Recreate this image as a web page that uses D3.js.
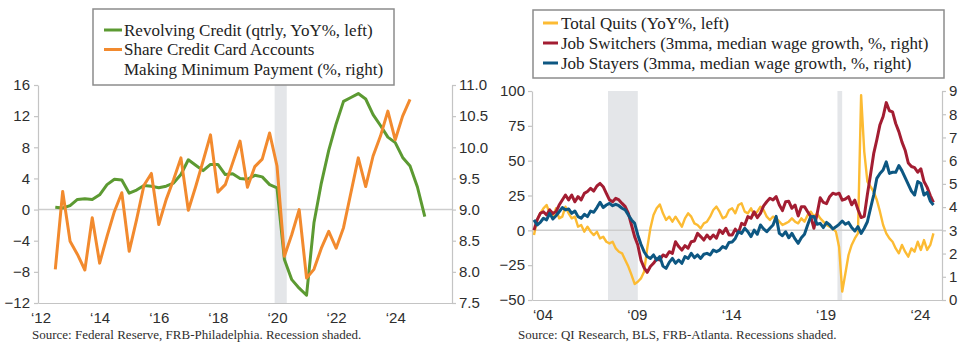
<!DOCTYPE html>
<html>
<head>
<meta charset="utf-8">
<script src="https://cdn.jsdelivr.net/npm/d3@7"></script>
<style>
  body { margin: 0; background: #fff; }
  svg { font-family: "Liberation Serif", "Times New Roman", serif; display: block; }
  .axis path, .axis line { stroke: #c4c4c4; stroke-width: 1.2; }
  .axis text { fill: #2e2e2e; font-size: 15px; }
  .legend text { fill: #222; font-size: 17px; }
  .source { fill: #2e2e2e; font-size: 13px; }
</style>
</head>
<body>
<div id="wrapper"></div>
<script>
// ---- left panel: quarterly, first point Q3 2012 ----
const leftStart = 2012.5
const leftStep = 0.25
const revolvingCredit = [0.3, 0.2, 0.5, 1.3, 1.4, 1.3, 1.9, 3.2, 3.9, 3.8,
  2.1, 2.5, 3.1, 3.0, 2.8, 3.0, 3.4, 4.5, 6.4, 5.7,
  5.0, 5.8, 5.8, 4.5, 4.6, 4.0, 3.9, 4.4, 4.2, 3.2,
  2.8, -6.4, -9.0, -10.1, -11.0, -1.7, 3.4, 7.6, 11.0, 13.9,
  14.4, 14.9, 14.2, 12.2, 10.8, 9.3, 8.6, 6.7, 5.6, 2.9, -0.9]
const minPayShare = [8.04, 9.29, 8.49, 8.28, 8.03, 8.87, 8.14, 8.57, 8.97, 9.27,
  8.33, 8.84, 9.39, 9.58, 8.76, 9.16, 9.48, 9.83, 8.99, 9.37,
  9.78, 10.20, 9.28, 9.40, 9.75, 10.10, 9.36, 9.69, 9.81, 10.23,
  9.70, 8.25, 8.60, 9.00, 7.90, 8.04, 8.38, 8.65, 8.38, 8.71,
  9.27, 9.83, 9.37, 9.86, 10.18, 10.58, 10.12, 10.50, 10.77]
const leftRecession = [[2019.92, 2020.33]]
const leftYearTicks = [2012, 2014, 2016, 2018, 2020, 2022, 2024]
const leftTicksL = [-12, -8, -4, 0, 4, 8, 12, 16]
const leftTicksR = [7.5, 8.0, 8.5, 9.0, 9.5, 10.0, 10.5, 11.0]

// ---- right panel: every two months from Jan 2004 ----
const rightStart = 2004
const rightStep = 1 / 6
const totalQuits = [-3.4, 7.4, 12.2, 15.8, 18.2, 12.2, 9.8, 15.8, 8.6, 9.8,
  17, 12.2, 8.6, 9.8, 2.6, 3.8, -1, 2.6, -1, -3.4,
  -1, -5.8, -4.6, -8.2, -9.4, -8.2, -13, -15.4, -16.5, -21.3,
  -26, -32, -38.5, -36.9, -34.5, -29.7, -12.9, 1.4, 11, 15.8,
  18.6, 12.2, 7.4, 9.8, 6.2, 9.8, 6.2, 2.6, 8.6, 12.2,
  9.8, 5, 3.8, 1.4, 5, 6.2, 9.8, 14.6, 17, 13.4,
  8.6, 9.8, 14.6, 15.8, 12.2, 18.2, 19.4, 13.4, 12.2, 15.8,
  11, 13.4, 17, 14.6, 9.8, 7.4, 9.8, 8.6, 6.2, 3.8,
  5, 6.2, 8.6, 6.2, 5, 8.6, 6.2, 11, 13.4, 9.8,
  12.2, 8.6, 6.2, 3.8, 2.6, 1.4, -1, -12, -44, -31,
  -17.7, -10.5, -5.8, -2.2, 97, 56.5, 34.9, 31.3, 27.7, 21.8,
  13.4, 3.8, -2.2, -5.8, -8.2, -13, -16.5, -10.5, -15.3, -18.9,
  -13, -15.3, -8.2, -14.1, -7, -14.1, -10.5, -2.2]
const jobSwitchers = [3.01, 3.45, 3.73, 3.80, 3.66, 3.88, 3.73, 3.80, 4.09, 4.31,
  4.52, 4.31, 4.52, 4.23, 4.45, 4.31, 4.59, 4.67, 4.81, 4.69,
  4.91, 5.02, 4.88, 4.59, 4.31, 4.23, 4.38, 4.31, 4.16, 4.02,
  3.73, 3.23, 2.73, 2.37, 1.72, 1.39, 1.19, 1.44, 1.58, 1.77,
  1.72, 1.94, 1.87, 2.08, 2.01, 2.51, 2.30, 2.15, 2.34, 2.23,
  2.51, 2.54, 2.87, 2.73, 2.58, 2.80, 2.63, 2.80, 2.66, 3.01,
  2.87, 3.09, 2.80, 2.80, 3.05, 2.90, 3.30, 3.23, 3.59, 3.52,
  3.80, 3.55, 3.73, 4.05, 4.23, 4.38, 4.31, 4.45, 4.09, 3.85,
  4.23, 4.25, 3.95, 4.09, 3.62, 4.02, 4.02, 3.80, 3.59, 3.09,
  3.70, 4.40, 4.20, 4.15, 4.45, 4.60, 4.55, 4.60, 4.30, 4.35,
  4.45, 4.10, 4.30, 3.90, 3.55, 3.60, 4.55, 5.40, 6.30, 6.90,
  7.55, 7.90, 8.50, 8.15, 8.10, 7.60, 7.25, 6.80, 6.45, 5.90,
  5.75, 5.70, 5.50, 5.65, 5.10, 4.85, 4.50, 4.20]
const jobStayers = [3.45, 3.23, 3.34, 3.52, 3.45, 3.73, 3.49, 3.63, 3.80, 3.98,
  3.88, 3.92, 3.73, 3.83, 3.59, 3.52, 3.69, 3.59, 3.83, 3.78,
  3.98, 4.21, 3.98, 4.09, 4.16, 4.06, 4.12, 4.06, 3.95, 3.88,
  3.66, 3.45, 3.30, 2.80, 2.40, 2.08, 1.87, 1.79, 1.94, 1.72,
  1.87, 1.46, 1.36, 1.62, 1.79, 1.58, 1.72, 1.58, 1.87, 1.79,
  2.01, 1.82, 1.94, 1.79, 1.97, 2.01, 1.94, 2.15, 2.08, 2.15,
  2.30, 2.23, 2.48, 2.50, 2.65, 2.94, 2.87, 3.09, 2.94, 2.73,
  3.01, 2.83, 3.23, 3.06, 2.94, 3.09, 3.23, 3.60, 2.87, 2.77,
  2.94, 2.68, 2.87, 2.63, 2.44, 2.68, 2.83, 3.23, 3.59, 3.60,
  3.26, 3.30, 3.12, 3.34, 3.23, 3.06, 3.15, 3.26, 3.40, 3.26,
  3.34, 3.12, 2.97, 3.16, 2.87, 3.09, 3.37, 3.95, 4.52, 5.24,
  5.45, 5.60, 5.95, 5.45, 5.50, 5.50, 5.79, 5.56, 5.27, 4.98,
  4.69, 4.52, 5.10, 5.02, 4.52, 4.64, 4.26, 4.09]
const rightRecessions = [[2007.92, 2009.5], [2020.08, 2020.33]]
const rightYearTicks = [2004, 2009, 2014, 2019, 2024]
const rightTicksL = [-50, -25, 0, 25, 50, 75, 100]
const rightTicksR = [0, 1, 2, 3, 4, 5, 6, 7, 8, 9]

const colors = {
  green: "#5c9a32", orange: "#f28a2e",
  yellow: "#fcbb33", red: "#a31d32", blue: "#0d5782",
  shade: "#e4e6e9", zero: "#cdcdcd", box: "#8c8c8c"
}

const svg = d3.select("#wrapper").append("svg")
  .attr("width", 975)
  .attr("height", 351)

const toPoints = (values, start, step) => values.map((v, i) => ({ t: start + i * step, v: v }))
const yearLabel = d => "\u2018" + String(Math.floor(d)).slice(2)

function drawLegend(g, box, items) {
  const lg = g.append("g").attr("class", "legend")
  lg.append("rect")
    .attr("x", box.x).attr("y", box.y)
    .attr("width", box.w).attr("height", box.h)
    .attr("fill", "#fff")
    .attr("stroke", colors.box)
    .attr("stroke-width", 1.5)
  items.forEach((it, i) => {
    const cy = box.y + box.top + i * box.gap
    if (it.color) {
      lg.append("line")
        .attr("x1", box.x + box.mark).attr("x2", box.x + box.mark + box.markW)
        .attr("y1", cy).attr("y2", cy)
        .attr("stroke", it.color).attr("stroke-width", 3)
    }
    lg.append("text")
      .attr("x", box.x + box.text)
      .attr("y", cy)
      .attr("dy", "0.33em")
      .text(it.label)
  })
}

// ================= LEFT PANEL =================
{
  const dim = { left: 38, right: 452, top: 85, bottom: 303 }
  const x = d3.scaleLinear().domain([2011.915, 2025.92]).range([dim.left, dim.right])
  const yL = d3.scaleLinear().domain([-12, 16]).range([dim.bottom, dim.top])
  const yR = d3.scaleLinear().domain([7.5, 11.0]).range([dim.bottom, dim.top])
  const g = svg.append("g")

  g.selectAll(".shade").data(leftRecession).enter().append("rect")
    .attr("x", d => x(d[0])).attr("width", d => x(d[1]) - x(d[0]))
    .attr("y", dim.top).attr("height", dim.bottom - dim.top)
    .attr("fill", colors.shade)

  g.append("line")
    .attr("x1", dim.left).attr("x2", dim.right)
    .attr("y1", yL(0)).attr("y2", yL(0))
    .attr("stroke", colors.zero).attr("stroke-width", 1.5)

  g.append("g").attr("class", "axis")
    .attr("transform", `translate(${dim.left},0)`)
    .call(d3.axisLeft(yL).tickValues(leftTicksL).tickSize(4).tickSizeOuter(0).tickPadding(4))
  g.append("g").attr("class", "axis")
    .attr("transform", `translate(${dim.right},0)`)
    .call(d3.axisRight(yR).tickValues(leftTicksR).tickFormat(d3.format(".1f")).tickSize(4).tickSizeOuter(0).tickPadding(3))
  g.append("g").attr("class", "axis")
    .attr("transform", `translate(0,${dim.bottom})`)
    .call(d3.axisBottom(x).tickValues(leftYearTicks).tickFormat(yearLabel).tickSize(0).tickSizeOuter(0).tickPadding(9))

  const line = scale => d3.line().x(d => x(d.t)).y(d => scale(d.v))

  g.append("path")
    .datum(toPoints(revolvingCredit, leftStart, leftStep))
    .attr("fill", "none").attr("stroke", colors.green)
    .attr("stroke-width", 3).attr("stroke-linejoin", "round")
    .attr("d", line(yL))
  g.append("path")
    .datum(toPoints(minPayShare, leftStart, leftStep))
    .attr("fill", "none").attr("stroke", colors.orange)
    .attr("stroke-width", 3).attr("stroke-linejoin", "round")
    .attr("d", line(yR))

  drawLegend(g, { x: 93, y: 9, w: 301, h: 76, top: 21, gap: 19.5, mark: 11, markW: 18, text: 31 }, [
    { color: colors.green, label: "Revolving Credit (qtrly, YoY%, left)" },
    { color: colors.orange, label: "Share Credit Card Accounts" },
    { color: null, label: "Making Minimum Payment (%, right)" }
  ])

  g.append("text").attr("class", "source")
    .attr("x", 32).attr("y", 339)
    .text("Source: Federal Reserve, FRB-Philadelphia. Recession shaded.")
}

// ================= RIGHT PANEL =================
{
  const dim = { left: 532, right: 942, top: 91, bottom: 300 }
  const x = d3.scaleLinear().domain([2003.894, 2025.62]).range([dim.left, dim.right])
  const yL = d3.scaleLinear().domain([-50, 100]).range([dim.bottom, dim.top])
  const yR = d3.scaleLinear().domain([0, 9]).range([dim.bottom, dim.top])
  const g = svg.append("g")

  g.selectAll(".shade").data(rightRecessions).enter().append("rect")
    .attr("x", d => x(d[0])).attr("width", d => x(d[1]) - x(d[0]))
    .attr("y", dim.top).attr("height", dim.bottom - dim.top)
    .attr("fill", colors.shade)

  g.append("line")
    .attr("x1", dim.left).attr("x2", dim.right)
    .attr("y1", yL(0)).attr("y2", yL(0))
    .attr("stroke", colors.zero).attr("stroke-width", 1.5)

  g.append("g").attr("class", "axis")
    .attr("transform", `translate(${dim.left},0)`)
    .call(d3.axisLeft(yL).tickValues(rightTicksL).tickSize(4).tickSizeOuter(0).tickPadding(3))
  g.append("g").attr("class", "axis")
    .attr("transform", `translate(${dim.right},0)`)
    .call(d3.axisRight(yR).tickValues(rightTicksR).tickSize(4).tickSizeOuter(0).tickPadding(3))
  // year labels sit near mid-year in the original
  g.append("g").attr("class", "axis")
    .attr("transform", `translate(0,${dim.bottom})`)
    .call(d3.axisBottom(x).tickValues(rightYearTicks.map(d => d + 0.45)).tickFormat(yearLabel).tickSize(0).tickSizeOuter(0).tickPadding(9))

  const line = scale => d3.line().x(d => x(d.t)).y(d => scale(d.v))

  g.append("path")
    .datum(toPoints(totalQuits, rightStart, rightStep))
    .attr("fill", "none").attr("stroke", colors.yellow)
    .attr("stroke-width", 2.4).attr("stroke-linejoin", "round")
    .attr("d", line(yL))
  g.append("path")
    .datum(toPoints(jobSwitchers, rightStart, rightStep))
    .attr("fill", "none").attr("stroke", colors.red)
    .attr("stroke-width", 3).attr("stroke-linejoin", "round")
    .attr("d", line(yR))
  g.append("path")
    .datum(toPoints(jobStayers, rightStart, rightStep))
    .attr("fill", "none").attr("stroke", colors.blue)
    .attr("stroke-width", 3).attr("stroke-linejoin", "round")
    .attr("d", line(yR))

  drawLegend(g, { x: 533, y: 10, w: 411, h: 68, top: 13, gap: 20, mark: 10, markW: 15, text: 28 }, [
    { color: colors.yellow, label: "Total Quits (YoY%, left)" },
    { color: colors.red, label: "Job Switchers (3mma, median wage growth, %, right)" },
    { color: colors.blue, label: "Job Stayers (3mma, median wage growth, %, right)" }
  ])

  g.append("text").attr("class", "source")
    .attr("x", 518).attr("y", 339)
    .text("Source: QI Research, BLS, FRB-Atlanta. Recessions shaded.")
}
</script>
</body>
</html>
